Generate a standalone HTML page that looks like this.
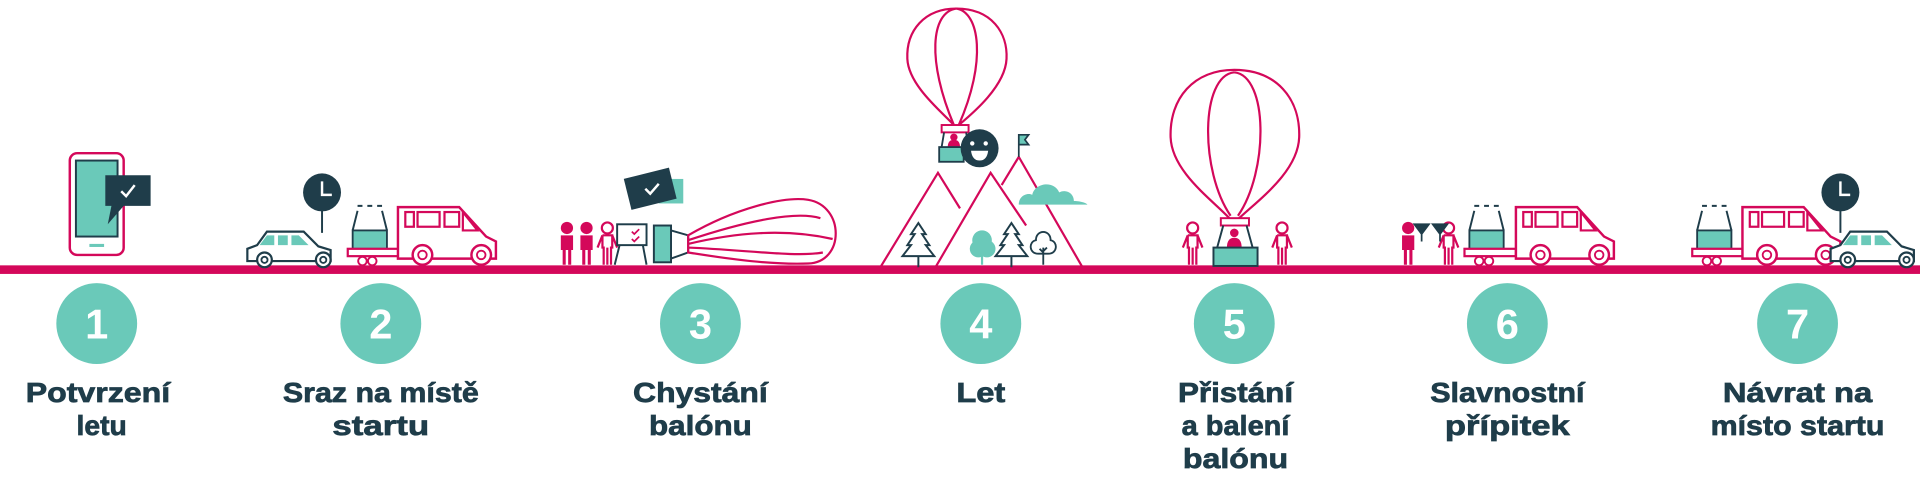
<!DOCTYPE html>
<html><head><meta charset="utf-8"><style>
html,body{margin:0;padding:0;background:#fff;}
svg{display:block}
text{font-family:"Liberation Sans",sans-serif;font-weight:bold;fill:#1f3d4a;text-anchor:middle;font-size:23px}
.t text{stroke:#1f3d4a;stroke-width:0.6px}
.n{fill:#fff;font-size:34px}
</style></head><body>
<svg width="1920" height="478" viewBox="0 0 1568 390" preserveAspectRatio="none" xmlns="http://www.w3.org/2000/svg">
<defs>
<g id="pp"><circle cx="0" cy="-30" r="4.5" fill="none" stroke="#d4085a" stroke-width="1.8"/><path d="M-4,-24 h8 v10 h-1 v14 M-3,0 v-14 h-1 v-10 M-4,-24 l-4,10 M4,-24 l4,10 M0,-14 v14" fill="none" stroke="#d4085a" stroke-width="1.8"/></g>
<g id="pf"><circle cx="0" cy="-30" r="5" fill="#d4085a"/><path d="M-5,-24 h10 v12 h-1.5 v12 h-2.5 v-12 h-2 v12 h-2.5 v-12 h-1.5z" fill="#d4085a"/></g>
<g id="van"><path d="M0,46 V4 h50 l22,24 l8,4 v14 z" fill="#fff" stroke="#d4085a" stroke-width="2"/>
<rect x="6" y="8" width="7" height="12" fill="none" stroke="#d4085a" stroke-width="1.8"/><rect x="16" y="8" width="18" height="12" fill="none" stroke="#d4085a" stroke-width="1.8"/><rect x="38" y="8" width="12" height="12" fill="none" stroke="#d4085a" stroke-width="1.8"/><path d="M53,8 l12,15 h-12z" fill="none" stroke="#d4085a" stroke-width="1.8"/>
<circle cx="20" cy="43" r="8" fill="#fff" stroke="#d4085a" stroke-width="2"/><circle cx="20" cy="43" r="3.5" fill="none" stroke="#d4085a" stroke-width="1.5"/>
<circle cx="68" cy="43" r="8" fill="#fff" stroke="#d4085a" stroke-width="2"/><circle cx="68" cy="43" r="3.5" fill="none" stroke="#d4085a" stroke-width="1.5"/></g>
<g id="trl"><path d="M8,7 l-4,16 M28,7 l4,16 M8,3 h4 M16,3 h4 M24,3 h4" stroke="#1f3d4a" stroke-width="1.6" fill="none"/><rect x="4" y="23" width="28" height="15" fill="#6ac9b9" stroke="#1f3d4a" stroke-width="1.5"/><rect x="0" y="38" width="42" height="6" fill="#fff" stroke="#d4085a" stroke-width="1.8"/><circle cx="12" cy="48" r="3.5" fill="#fff" stroke="#d4085a" stroke-width="1.6"/><circle cx="20" cy="48" r="3.5" fill="#fff" stroke="#d4085a" stroke-width="1.6"/></g>
<g id="car"><path d="M2,28 v-10 l8,-3 l8,-11 h30 l12,12 l10,3 v9 z" fill="#fff" stroke="#1f3d4a" stroke-width="1.8"/><path d="M12,15 l6,-8 h6 v8z M27,7 h8 v8 h-8z M38,7 h6 l8,8 h-14z" fill="#6ac9b9"/><circle cx="16" cy="27" r="6" fill="#fff" stroke="#1f3d4a" stroke-width="1.8"/><circle cx="16" cy="27" r="2.5" fill="none" stroke="#1f3d4a" stroke-width="1.5"/><circle cx="64" cy="27" r="6" fill="#fff" stroke="#1f3d4a" stroke-width="1.8"/><circle cx="64" cy="27" r="2.5" fill="none" stroke="#1f3d4a" stroke-width="1.5"/></g>
<g id="clk"><line x1="0" y1="0" x2="0" y2="33" stroke="#1f3d4a" stroke-width="1.6"/><circle cx="0" cy="0" r="15.5" fill="#1f3d4a"/><path d="M0,-9 V2 h8" stroke="#fff" stroke-width="2" fill="none"/></g>
<g id="tree"><path d="M0,-34 l-6,9 h3 l-6,9 h3 l-7,9 h26 l-7,-9 h3 l-6,-9 h3z M0,-7 v9" fill="none" stroke="#1f3d4a" stroke-width="1.6"/></g>
</defs>
<rect x="0" y="216.5" width="1568" height="7" fill="#d4085a"/>
<rect x="57" y="125" width="44" height="83" rx="6" fill="#fff" stroke="#d4085a" stroke-width="2"/>
<rect x="62" y="131" width="34" height="62" fill="#6ac9b9" stroke="#1f3d4a" stroke-width="1.6"/>
<rect x="73" y="199" width="12" height="2.5" fill="#6ac9b9"/>
<path d="M86,143 h37 v25 h-22 l-13,15 l3,-15 h-5z" fill="#1f3d4a"/>
<path d="M99,156 l4,4 l7,-9" stroke="#fff" stroke-width="2" fill="none"/>
<use href="#clk" x="263" y="157"/>
<use href="#car" x="200" y="185"/>
<use href="#trl" x="284" y="165"/>
<use href="#van" x="325" y="165"/>
<use href="#pf" x="463" y="216"/><use href="#pf" x="479" y="216"/><use href="#pp" x="496" y="216"/>
<path d="M506,200 l-4,16 M525,200 l3,16" stroke="#1f3d4a" stroke-width="1.6"/>
<rect x="504" y="183" width="24" height="17" fill="#fff" stroke="#1f3d4a" stroke-width="1.6"/>
<path d="M516,189 l2,2 l4,-4 M516,195 l2,2 l4,-4" stroke="#d4085a" stroke-width="1.4" fill="none"/>
<rect x="538" y="146" width="20" height="20" fill="#6ac9b9"/>
<rect x="512" y="141" width="38" height="26" fill="#1f3d4a" transform="rotate(-14 531 154)"/>
<path d="M527,154 l4,4 l7,-8" stroke="#fff" stroke-width="2" fill="none"/>
<rect x="534" y="184" width="14" height="30" fill="#6ac9b9" stroke="#1f3d4a" stroke-width="1.6"/>
<path d="M548,188 L562,192 V206 L548,211" fill="none" stroke="#1f3d4a" stroke-width="1.6"/>
<path d="M562,192 C600,170 640,160 660,163 C690,168 690,214 660,215 C630,216 600,212 562,206 Z M562,196 C610,180 650,172 670,178 M562,202 C610,204 650,210 672,206 M562,199 C600,190 640,186 680,195" fill="none" stroke="#d4085a" stroke-width="1.8"/>
<path d="M719,218 L766,141 L784,170 M764,218 L809,141 L838,184 M818,151 L832,128 L884,218" fill="none" stroke="#d4085a" stroke-width="1.8"/>
<path d="M832,128 V110 h8 l-3,4 l3,4 h-8" fill="#6ac9b9" stroke="#1f3d4a" stroke-width="1.4"/>
<path d="M832,167 c0,-8 8,-10 11,-8 c2,-10 18,-12 22,-2 c6,-3 12,1 12,7 c6,0 11,2 11,3z" fill="#6ac9b9"/>
<use href="#tree" x="750" y="216"/>
<circle cx="802" cy="196" r="8" fill="#6ac9b9"/><circle cx="799" cy="203" r="7" fill="#6ac9b9"/><circle cx="806" cy="203" r="7" fill="#6ac9b9"/><line x1="802" y1="205" x2="802" y2="216" stroke="#6ac9b9" stroke-width="1.8"/>
<use href="#tree" x="826" y="216"/>
<path d="M852,216 V202 M852,206 l-3,-3 M852,205 l3,-3 M848,207 c-8,0 -8,-10 -2,-11 c0,-9 12,-9 12,0 c6,1 6,11 -2,11z" fill="none" stroke="#1f3d4a" stroke-width="1.5"/>
<path d="M781,7 C755,7 740,25 741,48 C742,70 770,92 779,102 M781,7 C810,7 823,27 822,48 C821,70 795,92 783,102 M781,7 C760,10 757,50 779,102 M781,7 C800,10 806,50 783,102" fill="none" stroke="#d4085a" stroke-width="1.8"/>
<rect x="769" y="102" width="22" height="6" fill="none" stroke="#d4085a" stroke-width="1.6"/>
<path d="M771,108 l-2,12 M789,108 l2,12" stroke="#1f3d4a" stroke-width="1.5"/>
<circle cx="779" cy="112" r="3" fill="#d4085a"/><path d="M774,120 q0,-6 5,-6 q5,0 5,6z" fill="#d4085a"/>
<rect x="767" y="120" width="20" height="12" fill="#6ac9b9" stroke="#1f3d4a" stroke-width="1.5"/>
<circle cx="800" cy="121" r="15.5" fill="#1f3d4a"/><circle cx="794" cy="117" r="1.8" fill="#fff"/><circle cx="805" cy="117" r="1.8" fill="#fff"/><path d="M793,123 h14 q-1,8 -7,8 q-6,0 -7,-8z" fill="#fff"/>
<path d="M1008,57 C975,57 955,80 956,112 C957,140 990,163 1004,178 M1008,57 C1042,57 1062,80 1061,112 C1060,140 1028,163 1012,178 M1008,59 C980,62 980,140 1005,176 M1008,59 C1036,62 1036,140 1011,176" fill="none" stroke="#d4085a" stroke-width="1.8"/>
<rect x="997" y="178" width="23" height="6" fill="none" stroke="#d4085a" stroke-width="1.6"/>
<path d="M999,184 l-5,18 M1018,184 l5,18" stroke="#1f3d4a" stroke-width="1.6"/>
<circle cx="1008" cy="190" r="3.5" fill="#d4085a"/><path d="M1002,202 q0,-8 6,-8 q6,0 6,8z" fill="#d4085a"/>
<rect x="991" y="202" width="36" height="15" fill="#6ac9b9" stroke="#1f3d4a" stroke-width="1.6"/>
<use href="#pp" x="974" y="216"/><use href="#pp" x="1047" y="216"/>
<use href="#pf" x="1150" y="216"/><use href="#pp" x="1183" y="216"/>
<path d="M1155,183 h12 l-6,8z M1170,183 h12 l-6,8z M1161,191 v6 M1176,191 v6" fill="#1f3d4a" stroke="#1f3d4a" stroke-width="1.4"/>
<use href="#trl" x="1196" y="165"/>
<use href="#van" x="1238" y="165"/>
<use href="#trl" x="1382" y="165"/>
<use href="#van" x="1423" y="165"/>
<use href="#clk" x="1503" y="157"/>
<use href="#car" x="1493" y="185"/>
<g fill="#6ac9b9"><circle cx="79" cy="264" r="33"/><circle cx="311" cy="264" r="33"/><circle cx="572" cy="264" r="33"/><circle cx="801" cy="264" r="33"/><circle cx="1008" cy="264" r="33"/><circle cx="1231" cy="264" r="33"/><circle cx="1468" cy="264" r="33"/></g>
<text class="n" x="79" y="276">1</text><text class="n" x="311" y="276">2</text><text class="n" x="572" y="276">3</text><text class="n" x="801" y="276">4</text><text class="n" x="1008" y="276">5</text><text class="n" x="1231" y="276">6</text><text class="n" x="1468" y="276">7</text>
<g class="t">
<text x="80" y="328" textLength="118" lengthAdjust="spacingAndGlyphs">Potvrzení</text><text x="83" y="355" textLength="41" lengthAdjust="spacingAndGlyphs">letu</text>
<text x="311" y="328" textLength="160" lengthAdjust="spacingAndGlyphs">Sraz na místě</text><text x="311" y="355" textLength="79" lengthAdjust="spacingAndGlyphs">startu</text>
<text x="572" y="328" textLength="110" lengthAdjust="spacingAndGlyphs">Chystání</text><text x="572" y="355" textLength="84" lengthAdjust="spacingAndGlyphs">balónu</text>
<text x="801" y="328" textLength="40" lengthAdjust="spacingAndGlyphs">Let</text>
<text x="1009" y="328" textLength="94" lengthAdjust="spacingAndGlyphs">Přistání</text><text x="1009" y="355" textLength="88" lengthAdjust="spacingAndGlyphs">a balení</text><text x="1009" y="382" textLength="86" lengthAdjust="spacingAndGlyphs">balónu</text>
<text x="1231" y="328" textLength="126" lengthAdjust="spacingAndGlyphs">Slavnostní</text><text x="1231" y="355" textLength="102" lengthAdjust="spacingAndGlyphs">přípitek</text>
<text x="1468" y="328" textLength="122" lengthAdjust="spacingAndGlyphs">Návrat na</text><text x="1468" y="355" textLength="142" lengthAdjust="spacingAndGlyphs">místo startu</text>
</g>
</svg>
</body></html>
